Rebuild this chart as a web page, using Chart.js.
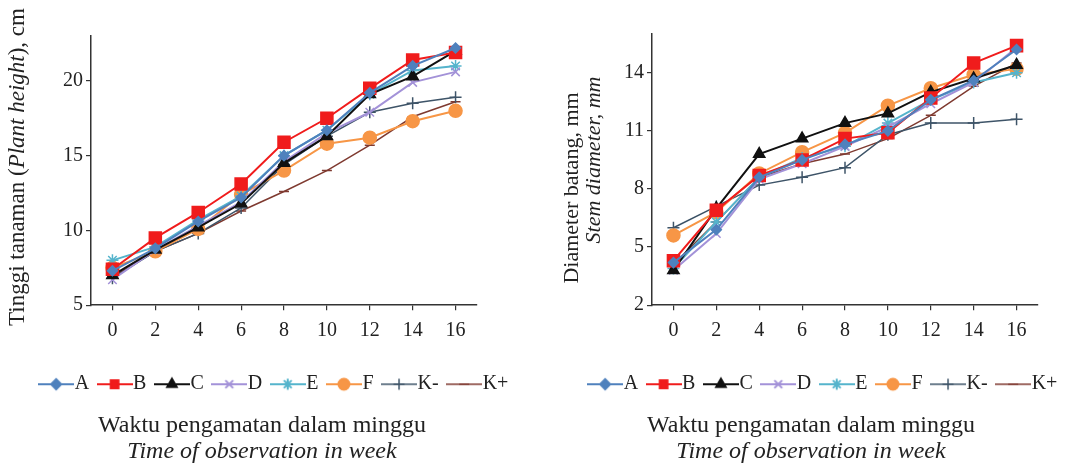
<!DOCTYPE html>
<html>
<head>
<meta charset="utf-8">
<script src="https://cdn.jsdelivr.net/npm/chart.js@4.4.1/dist/chart.umd.min.js"></script>
<style>
  body { margin: 0; background: #fff; }
  #wrap { position: relative; width: 1074px; height: 467px; }
  .box { position: absolute; top: 0; height: 467px; }
</style>
</head>
<body>
<div id="wrap">
  <div class="box" style="left:0;width:524px"><canvas id="heightChart"></canvas></div>
  <div class="box" style="left:548px;width:526px"><canvas id="diamChart"></canvas></div>
</div>
<script>
// minggu pengamatan
const weeks = ['0', '2', '4', '6', '8', '10', '12', '14', '16'];
const seriesNames = ['A', 'B', 'C', 'D', 'E', 'F', 'K-', 'K+'];

// Tinggi tanaman (cm)
const heightA = [7.3, 8.8, 10.6, 12.2, 15.0, 16.7, 19.2, 21.0, 22.2];
const heightB = [7.4, 9.5, 11.2, 13.1, 15.9, 17.5, 19.5, 21.4, 21.9];
const heightC = [7.0, 8.7, 10.2, 11.8, 14.5, 16.3, 19.1, 20.3, 22.0];
const heightD = [6.7, 8.7, 10.3, 11.9, 14.6, 16.5, 17.9, 19.9, 20.6];
const heightE = [8.0, 8.9, 10.7, 12.3, 15.0, 16.7, 19.1, 20.7, 21.0];
const heightF = [7.5, 8.6, 10.1, 12.4, 14.0, 15.8, 16.2, 17.3, 18.0];
const heightKmin = [6.8, 8.6, 9.8, 11.5, 14.4, 16.3, 17.9, 18.5, 18.9];
const heightKplus = [6.9, 8.6, 9.8, 11.3, 12.6, 14.0, 15.7, 17.6, 18.6];
const heightTicks = [5, 10, 15, 20];

// Diameter batang (mm)
const diamA = [4.2, 5.9, 8.6, 9.5, 10.3, 11.0, 12.6, 13.6, 15.2];
const diamB = [4.3, 6.9, 8.7, 9.5, 10.6, 10.9, 12.7, 14.5, 15.4];
const diamC = [3.8, 7.0, 9.8, 10.6, 11.4, 11.9, 13.0, 13.7, 14.4];
const diamD = [3.8, 5.7, 8.5, 9.3, 10.2, 11.2, 12.4, 13.5, 15.3];
const diamE = [3.9, 6.3, 8.6, 9.6, 10.2, 11.4, 12.6, 13.5, 14.0];
const diamF = [5.6, 6.8, 8.8, 9.9, 10.9, 12.3, 13.2, 13.9, 14.2];
const diamKmin = [6.0, 7.1, 8.2, 8.6, 9.1, 10.8, 11.4, 11.4, 11.6];
const diamKplus = [4.1, 6.3, 8.6, 9.3, 9.8, 10.6, 11.8, 13.3, 14.5];
const diamTicks = [2, 5, 8, 11, 14];

// gaya tiap seri
const styles = [
  { color: '#4f81bd', marker: 'rectRot', r: 5, lw: 2 },
  { color: '#f01c1c', marker: 'rect', r: 8.5, lw: 2 },
  { color: '#111111', marker: 'triangle', r: 6.5, lw: 2 },
  { color: '#a392d8', marker: 'crossRot', r: 6, lw: 2 },
  { color: '#55b4cc', marker: 'star', r: 6, lw: 2 },
  { color: '#f79646', marker: 'circle', r: 6.5, lw: 2 },
  { color: '#3e5468', marker: 'cross', r: 6, lw: 1.5 },
  { color: '#7f3a30', marker: 'line', r: 5, lw: 1.5 }
];

const serif = '"Liberation Serif", "Times New Roman", serif';
const textColor = '#222';
const axisColor = '#333';

// ikon legenda: garis + marker
function legendIcon(st) {
  const c = document.createElement('canvas');
  c.width = 36; c.height = 16;
  const ctx = c.getContext('2d');
  ctx.strokeStyle = st.color;
  ctx.fillStyle = st.color;
  ctx.lineWidth = st.lw;
  ctx.beginPath();
  ctx.moveTo(0, 8); ctx.lineTo(36, 8);
  ctx.stroke();
  Chart.helpers.drawPoint(ctx, { pointStyle: st.marker, radius: Math.min(st.r, 5.5), rotation: 0, borderWidth: 1.5 }, 18, 8);
  return c;
}

function makeDatasets(arrays) {
  return arrays.map((arr, i) => ({
    label: seriesNames[i],
    data: arr,
    borderColor: styles[i].color,
    backgroundColor: styles[i].color,
    pointBackgroundColor: styles[i].color,
    pointBorderColor: styles[i].color,
    pointStyle: styles[i].marker,
    pointRadius: styles[i].r,
    pointBorderWidth: 1.5,
    borderWidth: styles[i].lw,
    tension: 0,
    fill: false
  }));
}

// judul sumbu y dengan huruf miring sebagian
const yTitlePlugin = {
  id: 'yTitle',
  afterLayout(chart, args, opts) {
    // geser legenda sedikit ke kanan seperti di gambar asli
    if (chart.legend && opts.legendShift) {
      chart.legend.left += opts.legendShift;
      chart.legend.right += opts.legendShift;
    }
  },
  afterDraw(chart, args, opts) {
    const ctx = chart.ctx;
    (opts.lines || []).forEach(line => {
      ctx.save();
      ctx.translate(line.x, line.y);
      ctx.rotate(-Math.PI / 2);
      ctx.textBaseline = 'middle';
      ctx.fillStyle = textColor;
      let total = 0;
      line.parts.forEach(p => { ctx.font = p.font; total += ctx.measureText(p.text).width; });
      let x = -total / 2;
      line.parts.forEach(p => {
        ctx.font = p.font;
        ctx.fillText(p.text, x, 0);
        x += ctx.measureText(p.text).width;
      });
      ctx.restore();
    });
  }
};

function buildOptions(cfg) {
  return {
    responsive: true,
    maintainAspectRatio: false,
    animation: false,
    layout: { padding: { top: cfg.top, bottom: 0, left: 0, right: 0 } },
    plugins: {
      legend: {
        display: true,
        position: 'bottom',
        labels: {
          usePointStyle: true,
          pointStyleWidth: 17,
          padding: 17,
          color: textColor,
          font: { family: serif, size: 20 },
          generateLabels: (chart) => chart.data.datasets.map((ds, i) => ({
            text: ds.label,
            pointStyle: legendIcon(styles[i]),
            fillStyle: 'transparent',
            strokeStyle: 'transparent',
            lineWidth: 0,
            fontColor: textColor,
            hidden: false,
            datasetIndex: i
          }))
        }
      },
      subtitle: {
        display: true,
        position: 'bottom',
        text: 'Waktu pengamatan dalam minggu',
        color: textColor,
        font: { family: serif, size: 24, style: 'normal', weight: 'normal', lineHeight: 1.1 },
        padding: { top: 8, bottom: 0 }
      },
      title: {
        display: true,
        position: 'bottom',
        text: 'Time of observation in week',
        color: textColor,
        font: { family: serif, size: 24, style: 'italic', weight: 'normal', lineHeight: 1.1 },
        padding: { top: 0, bottom: 2 }
      },
      tooltip: { enabled: false },
      yTitle: { lines: cfg.yTitle, legendShift: cfg.legendShift }
    },
    scales: {
      x: {
        type: 'category',
        offset: true,
        grid: { display: true, drawOnChartArea: false, offset: false, tickLength: 5, color: axisColor, lineWidth: 1.2 },
        border: { display: true, color: axisColor, width: 1.5 },
        ticks: { color: textColor, padding: 9, font: { family: serif, size: 20 }, maxRotation: 0 },
        afterFit: (s) => { s.height = 52; }
      },
      y: {
        type: 'linear',
        min: cfg.min,
        max: cfg.max,
        grid: { display: true, drawOnChartArea: false, tickLength: 5, color: axisColor, lineWidth: 1.2 },
        border: { display: true, color: axisColor, width: 1.5 },
        ticks: { color: textColor, padding: 3, font: { family: serif, size: 20 } },
        afterBuildTicks: (s) => { s.ticks = cfg.ticks.map(v => ({ value: v })); },
        afterFit: (s) => { s.width = cfg.yWidth; }
      },
      pad: {
        type: 'linear',
        position: 'right',
        display: true,
        grid: { display: false },
        border: { display: false },
        ticks: { display: false },
        afterFit: (s) => { s.width = cfg.padRight; }
      }
    }
  };
}

// Grafik tinggi tanaman
const heightChart = new Chart(document.getElementById('heightChart'), {
  type: 'line',
  data: {
    labels: weeks,
    datasets: makeDatasets([heightA, heightB, heightC, heightD, heightE, heightF, heightKmin, heightKplus])
  },
  options: buildOptions({
    top: 36, min: 5, max: 23, ticks: heightTicks, yWidth: 91, padRight: 47, legendShift: 16,
    yTitle: [{
      x: 18, y: 167,
      parts: [
        { text: 'Tinggi tanaman (', font: '23px ' + serif },
        { text: 'Plant height', font: 'italic 23px ' + serif },
        { text: '), cm', font: '23px ' + serif }
      ]
    }]
  }),
  plugins: [yTitlePlugin]
});

// Grafik diameter batang
const diamChart = new Chart(document.getElementById('diamChart'), {
  type: 'line',
  data: {
    labels: weeks,
    datasets: makeDatasets([diamA, diamB, diamC, diamD, diamE, diamF, diamKmin, diamKplus])
  },
  options: buildOptions({
    top: 34, min: 2, max: 16, ticks: diamTicks, yWidth: 104, padRight: 36, legendShift: 16,
    yTitle: [
      { x: 24, y: 188, parts: [{ text: 'Diameter batang, mm', font: '22px ' + serif }] },
      { x: 46, y: 160, parts: [{ text: 'Stem diameter, mm', font: 'italic 22px ' + serif }] }
    ]
  }),
  plugins: [yTitlePlugin]
});
</script>
</body>
</html>
